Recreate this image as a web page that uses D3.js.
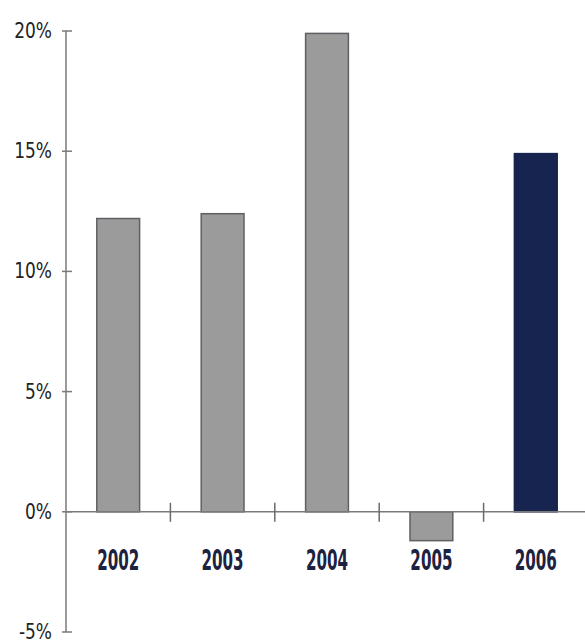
<!DOCTYPE html>
<html>
<head>
<meta charset="utf-8">
<script src="https://cdn.jsdelivr.net/npm/d3@7"></script>
<style>
  body { margin: 0; background: #fff; }
  svg { display: block; }
</style>
</head>
<body>
<script>
const years = ["2002", "2003", "2004", "2005", "2006"];
const growth = [12.2, 12.4, 19.9, -1.2, 14.9];
const yTicks = [-5, 0, 5, 10, 15, 20];

const width = 585;
const height = 644;

const svg = d3.create("svg")
  .attr("width", width)
  .attr("height", height);

const x = d3.scaleBand(years, [66, 588]).paddingInner(0.59).paddingOuter(0.295);
const y = d3.scaleLinear([-5, 20], [632, 31]);

// bars
svg.append("g")
  .selectAll("rect")
  .data(years)
  .join("rect")
  .attr("x", d => x(d))
  .attr("width", x.bandwidth())
  .attr("y", (d, i) => y(Math.max(0, growth[i])))
  .attr("height", (d, i) => Math.abs(y(growth[i]) - y(0)))
  .attr("fill", d => d === "2006" ? "#16244f" : "#9b9b9b")
  .attr("stroke", d => d === "2006" ? "#16244f" : "#5f5f66")
  .attr("stroke-width", 1.5);

// y axis
const yAxis = svg.append("g").attr("transform", "translate(66,0)");
yAxis.append("line")
  .attr("y1", y(20)).attr("y2", y(-5))
  .attr("stroke", "#7a7a7a").attr("stroke-width", 1.5);
yAxis.selectAll("line.tick")
  .data(yTicks)
  .join("line")
  .attr("class", "tick")
  .attr("x1", -4).attr("x2", 6)
  .attr("y1", d => y(d)).attr("y2", d => y(d))
  .attr("stroke", "#7a7a7a").attr("stroke-width", 1.5);
yAxis.selectAll("text")
  .data(yTicks)
  .join("text")
  .attr("transform", d => `translate(-14,${y(d) + 7}) scale(0.86,1)`)
  .attr("text-anchor", "end")
  .attr("font-family", "DejaVu Sans Condensed")
  .attr("font-size", 22)
  .attr("fill", "#222")
  .text(d => d + "%");

// x axis at zero
const xAxis = svg.append("g").attr("transform", `translate(0,${y(0)})`);
xAxis.append("line")
  .attr("x1", 66).attr("x2", width)
  .attr("stroke", "#7a7a7a").attr("stroke-width", 1.5);
xAxis.selectAll("line.tick")
  .data(years.slice(1))
  .join("line")
  .attr("class", "tick")
  .attr("x1", d => x(d) - x.step() * x.paddingInner() / 2)
  .attr("x2", d => x(d) - x.step() * x.paddingInner() / 2)
  .attr("y1", -9).attr("y2", 10)
  .attr("stroke", "#6a6a6a").attr("stroke-width", 1.5);
xAxis.selectAll("text")
  .data(years)
  .join("text")
  .attr("transform", d => `translate(${x(d) + x.bandwidth() / 2},58) scale(0.58,1)`)
  .attr("text-anchor", "middle")
  .attr("font-family", "DejaVu Sans Condensed")
  .attr("font-weight", "bold")
  .attr("font-size", 29)
  .attr("fill", "#1c2240")
  .text(d => d);

document.body.appendChild(svg.node());
</script>
</body>
</html>
